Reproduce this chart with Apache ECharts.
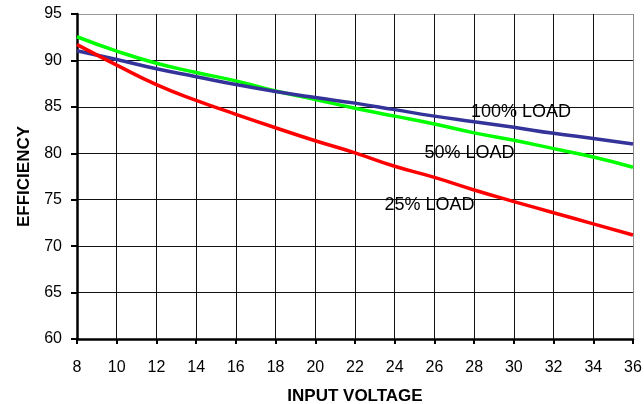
<!DOCTYPE html>
<html><head><meta charset="utf-8">
<script src="https://cdn.jsdelivr.net/npm/echarts@6/dist/echarts.min.js"></script>
<style>html,body{margin:0;padding:0;background:#fff}#c{width:644px;height:404px}</style>
</head><body><div id="c"></div>
<script>
var inputVoltage = [8,10,12,14,16,18,20,22,24,26,28,30,32,34,36];
var eff100 = [91.05,90.1,89.1,88.25,87.4,86.65,86.0,85.4,84.7,84.0,83.4,82.8,82.15,81.6,81.0];
var eff50  = [92.55,91.0,89.7,88.7,87.8,86.7,85.8,84.85,84.0,83.15,82.2,81.4,80.5,79.6,78.5];
var eff25  = [91.7,89.5,87.4,85.7,84.2,82.75,81.35,80.05,78.6,77.4,76.05,74.8,73.6,72.4,71.2];
var labels = [
  {text:'100% LOAD', x:30.36, y:84.45},
  {text:'50% LOAD', x:27.77, y:80.03},
  {text:'25% LOAD', x:25.75, y:74.43}
];
function pairs(ys){return inputVoltage.map(function(x,i){return [x,ys[i]];});}
var font = 'Liberation Sans, Arial, sans-serif';
var chart = echarts.init(document.getElementById('c'));
var ySplitColors = ['#000','#111','#111','#111','#111','#111','#111','#999'];
var xSplitColors = [];
for (var i=0;i<inputVoltage.length;i++) xSplitColors.push(i===inputVoltage.length-1?'#888':'#111');
chart.setOption({
  animation:false,
  backgroundColor:'#fff',
  grid:{left:77,right:11,top:14,bottom:65,containLabel:false,outerBoundsMode:'none'},
  xAxis:{type:'value',min:8,max:36,interval:2,
    name:'INPUT VOLTAGE',nameLocation:'middle',nameGap:49,
    nameTextStyle:{fontFamily:font,fontWeight:'bold',fontSize:17,color:'#000'},
    axisLine:{show:true,onZero:false,lineStyle:{color:'#000',width:2.5}},
    axisTick:{show:true,inside:false,length:5,lineStyle:{color:'#000',width:2}},
    axisLabel:{fontFamily:font,fontSize:16,color:'#000',margin:21},
    splitLine:{show:true,lineStyle:{color:xSplitColors,width:1}}
  },
  yAxis:{type:'value',min:60,max:95,interval:5,
    name:'EFFICIENCY',nameLocation:'middle',nameGap:44,nameRotate:90,
    nameTextStyle:{fontFamily:font,fontWeight:'bold',fontSize:17,color:'#000'},
    axisLine:{show:true,onZero:false,lineStyle:{color:'#000',width:2.5}},
    axisTick:{show:true,inside:false,length:6,lineStyle:{color:'#000',width:2}},
    axisLabel:{fontFamily:font,fontSize:16,color:'#000',margin:15},
    splitLine:{show:true,lineStyle:{color:ySplitColors,width:1}}
  },
  series:[
    {type:'line',name:'100% LOAD',data:pairs(eff100),smooth:true,showSymbol:false,
     lineStyle:{color:'#333399',width:3.5},z:3,
     markPoint:{symbol:'circle',symbolSize:0,silent:true,
       label:{show:true,formatter:'{b}',fontFamily:font,fontSize:18,color:'#000',position:'inside'},
       data:labels.map(function(l){return {name:l.text,coord:[l.x,l.y]};})}
    },
    {type:'line',name:'50% LOAD',data:pairs(eff50),smooth:true,showSymbol:false,
     lineStyle:{color:'#00ff00',width:3.5},z:2},
    {type:'line',name:'25% LOAD',data:pairs(eff25),smooth:true,showSymbol:false,
     lineStyle:{color:'#ff0000',width:3.5},z:4}
  ]
});
</script></body></html>
